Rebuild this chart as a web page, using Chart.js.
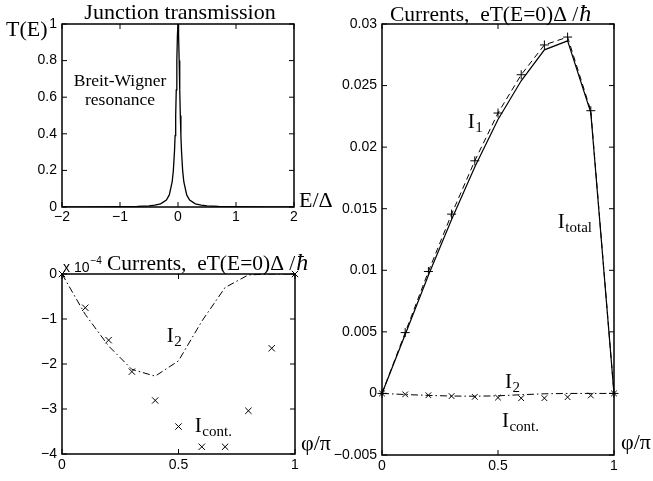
<!DOCTYPE html>
<html>
<head>
<meta charset="utf-8">
<script src="https://cdn.jsdelivr.net/npm/chart.js@4.4.0/dist/chart.umd.min.js"></script>
<style>
  html, body { margin: 0; padding: 0; background: #fff; }
  #wrap { position: relative; width: 653px; height: 481px; }
  #wrap canvas { position: absolute; left: 0; top: 0; }
</style>
</head>
<body>
<div id="wrap">
  <canvas id="trans" width="653" height="481"></canvas>
  <canvas id="small" width="653" height="481"></canvas>
  <canvas id="big" width="653" height="481"></canvas>
</div>
<script>
'use strict';

// transmission peak
var energy = [-2, -1.5, -1, -0.7, -0.5, -0.4, -0.3, -0.2, -0.15, -0.1, -0.08, -0.06, -0.05, -0.04, -0.03, -0.02, -0.01,
    0, 0.01, 0.02, 0.03, 0.04, 0.05, 0.06, 0.08, 0.1, 0.15, 0.2, 0.3, 0.4, 0.5, 0.7, 1, 1.5, 2];
var transmission = [0.0004, 0.0007, 0.0016, 0.0033, 0.0064, 0.0099, 0.0175, 0.0385, 0.066, 0.138, 0.2, 0.308, 0.39, 0.5, 0.64, 0.8, 0.94,
    1, 0.94, 0.8, 0.64, 0.5, 0.39, 0.308, 0.2, 0.138, 0.066, 0.0385, 0.0175, 0.0099, 0.0064, 0.0033, 0.0016, 0.0007, 0.0004];

// currents vs phase
var phi = [0, 0.1, 0.2, 0.3, 0.4, 0.5, 0.6, 0.7, 0.8, 0.9, 1];
var i1 = [0, 0.00494, 0.0099, 0.01456, 0.01889, 0.02277, 0.02588, 0.0283, 0.02894, 0.02296, 0];
var iTotal = [0, 0.00478, 0.00959, 0.01413, 0.01838, 0.02224, 0.02539, 0.0279, 0.02863, 0.0228, 0];
// these two are in units of 1e-4
var i2 = [0, -0.9, -1.6, -2.12, -2.27, -1.93, -1.05, -0.3, -0.02, 0, 0];
var iCont = [0, -0.75, -1.47, -2.17, -2.81, -3.39, -3.84, -3.84, -3.04, -1.65, 0];

var transTicksX = [-2, -1, 0, 1, 2];
var transTicksY = [0, 0.2, 0.4, 0.6, 0.8, 1];
var phiTicks = [0, 0.5, 1];
var smallTicksY = [-4, -3, -2, -1, 0];
var bigTicksY = [-0.005, 0, 0.005, 0.01, 0.015, 0.02, 0.025, 0.03];

var SERIF = '"Liberation Serif", "Times New Roman", serif';
var SANS = '"Liberation Sans", Arial, sans-serif';

function pts(xs, ys, k) {
    k = k || 1;
    return xs.map(function (x, i) { return { x: x, y: ys[i] * k }; });
}

function fmt(v) {
    return String(parseFloat(Number(v).toFixed(4))).replace('-', '\u2212');
}

function axis(min, max, list, pad, size) {
    return {
        type: 'linear', min: min, max: max,
        grid: { display: false, drawTicks: false },
        border: { display: false },
        afterBuildTicks: function (s) { s.ticks = list.map(function (v) { return { value: v }; }); },
        afterFit: function (s) { if (s.isHorizontal()) s.height = size; else s.width = size; },
        ticks: {
            padding: pad, color: '#000', autoSkip: false, maxRotation: 0,
            font: { family: SANS, size: 14 },
            callback: fmt
        }
    };
}

// matlab style box with inward ticks on all sides
var boxPlugin = {
    id: 'box',
    afterDraw: function (chart) {
        var ctx = chart.ctx, a = chart.chartArea, sx = chart.scales.x, sy = chart.scales.y;
        ctx.save();
        ctx.strokeStyle = '#000';
        ctx.lineWidth = 1;
        ctx.beginPath();
        sx.ticks.forEach(function (t) {
            var p = sx.getPixelForValue(t.value);
            ctx.moveTo(p, a.bottom); ctx.lineTo(p, a.bottom - 5);
            ctx.moveTo(p, a.top); ctx.lineTo(p, a.top + 5);
        });
        sy.ticks.forEach(function (t) {
            var p = sy.getPixelForValue(t.value);
            ctx.moveTo(a.left, p); ctx.lineTo(a.left + 5, p);
            ctx.moveTo(a.right, p); ctx.lineTo(a.right - 5, p);
        });
        ctx.stroke();
        ctx.lineWidth = 1.5;
        ctx.strokeRect(a.left, a.top, a.right - a.left, a.bottom - a.top);
        ctx.restore();
    }
};

function text(ctx, s, x, y, size, opts) {
    opts = opts || {};
    ctx.font = (opts.italic ? 'italic ' : '') + size + 'px ' + (opts.font || SERIF);
    ctx.textAlign = opts.align || 'left';
    ctx.textBaseline = 'alphabetic';
    ctx.fillStyle = '#000';
    ctx.fillText(s, x, y);
    return ctx.measureText(s).width;
}

// "I" with a subscript
function current(ctx, subscript, x, y) {
    var w = text(ctx, 'I', x, y, 21);
    text(ctx, subscript, x + w + 0.5, y + 4, 15);
}

function title(ctx, x, y) {
    var w = text(ctx, 'Currents,  eT(E=0)\u0394 /', x, y, 21.5);
    text(ctx, '\u0127', x + w + 1, y, 24, { italic: true });
}

function notes(draw) {
    return {
        id: 'notes',
        afterDraw: function (chart) {
            var ctx = chart.ctx;
            ctx.save();
            draw(ctx, chart.scales.x, chart.scales.y);
            ctx.restore();
        }
    };
}

var common = {
    responsive: false,
    animation: false,
    events: [],
    plugins: { legend: { display: false }, tooltip: { enabled: false } }
};

function options(pad, scales) {
    return Object.assign({}, common, {
        layout: { padding: pad, autoPadding: false },
        scales: scales
    });
}

new Chart(document.getElementById('trans'), {
    type: 'line',
    data: {
        datasets: [{
            data: pts(energy, transmission),
            borderColor: '#000', borderWidth: 1.3, pointRadius: 0
        }]
    },
    options: options({ left: 0, top: 24, right: 359, bottom: 254 }, {
        x: axis(-2, 2, transTicksX, 2, 20),
        y: axis(0, 1, transTicksY, 5, 62)
    }),
    plugins: [boxPlugin, notes(function (ctx, x, y) {
        text(ctx, 'Junction transmission', 180, 19, 22, { align: 'center' });
        text(ctx, 'T(E)', 6, 36, 22);
        text(ctx, 'E/\u0394', 299, 207, 22);
        text(ctx, 'Breit-Wigner', x.getPixelForValue(-1), y.getPixelForValue(0.661), 17.5, { align: 'center' });
        text(ctx, 'resonance', x.getPixelForValue(-1), y.getPixelForValue(0.557), 17.5, { align: 'center' });
    })]
});

new Chart(document.getElementById('small'), {
    type: 'line',
    data: {
        datasets: [{
            data: pts(phi, i2),
            borderColor: '#000', borderWidth: 1, borderDash: [7, 3, 1.5, 3], pointRadius: 0
        }, {
            data: pts(phi, iCont),
            showLine: false, clip: false,
            pointStyle: 'crossRot', pointRadius: 4.5, borderWidth: 1,
            pointBorderColor: '#000', pointBackgroundColor: 'transparent'
        }]
    },
    options: options({ left: 0, top: 274, right: 358, bottom: 7 }, {
        x: axis(0, 1, phiTicks, 3, 20),
        y: axis(-4, 0, smallTicksY, 5, 62)
    }),
    plugins: [boxPlugin, notes(function (ctx, x, y) {
        var w = text(ctx, 'x 10', 63, 272, 14, { font: SANS });
        text(ctx, '\u22124', 63 + w + 1, 264, 10, { font: SANS });
        title(ctx, 107, 270);
        text(ctx, '\u03c6/\u03c0', 301, 450, 22);
        current(ctx, '2', x.getPixelForValue(0.45), y.getPixelForValue(-1.51));
        current(ctx, 'cont.', x.getPixelForValue(0.57), y.getPixelForValue(-3.51));
    })]
});

new Chart(document.getElementById('big'), {
    type: 'line',
    data: {
        datasets: [{
            data: pts(phi, iTotal),
            borderColor: '#000', borderWidth: 1.2, pointRadius: 0
        }, {
            data: pts(phi, i1),
            borderColor: '#000', borderWidth: 1, borderDash: [6, 4], clip: false,
            pointStyle: 'cross', pointRadius: 4.5, pointBorderColor: '#000', pointBorderWidth: 1
        }, {
            data: pts(phi, i2, 1e-4),
            borderColor: '#000', borderWidth: 1, borderDash: [7, 3, 1.5, 3], pointRadius: 0
        }, {
            data: pts(phi, iCont, 1e-4),
            showLine: false, clip: false,
            pointStyle: 'crossRot', pointRadius: 4, borderWidth: 1,
            pointBorderColor: '#000', pointBackgroundColor: 'transparent'
        }]
    },
    options: options({ left: 330, top: 24, right: 39, bottom: 6 }, {
        x: axis(0, 1, phiTicks, 3, 20),
        y: axis(-0.005, 0.03, bigTicksY, 5, 52)
    }),
    plugins: [boxPlugin, notes(function (ctx, x, y) {
        title(ctx, 390, 21);
        text(ctx, '\u03c6/\u03c0', 621, 449, 22);
        current(ctx, '1', x.getPixelForValue(0.37), y.getPixelForValue(0.02157));
        current(ctx, 'total', x.getPixelForValue(0.758), y.getPixelForValue(0.01345));
        current(ctx, '2', x.getPixelForValue(0.53), y.getPixelForValue(0.00045));
        current(ctx, 'cont.', x.getPixelForValue(0.517), y.getPixelForValue(-0.00272));
    })]
});
</script>
</body>
</html>
